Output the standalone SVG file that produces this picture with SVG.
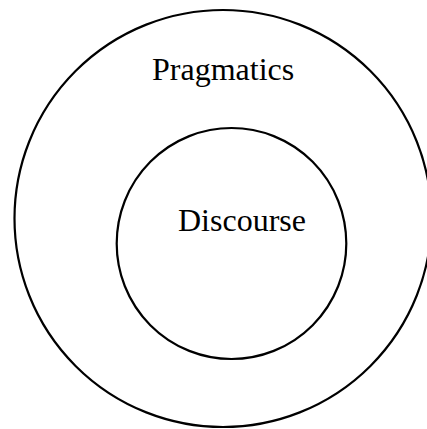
<svg xmlns="http://www.w3.org/2000/svg" width="427" height="429" viewBox="0 0 427 429">
<style>
.ring{fill:none;stroke:#000;stroke-width:2.2}
.lbl{font-family:"Liberation Serif","Times New Roman",serif;font-size:32px;fill:#000}
</style>
<rect width="427" height="429" fill="#fff"/>
<g id="pragmatics">
<ellipse class="ring" cx="223" cy="218.5" rx="208.5" ry="208.5"/>
<text class="lbl" x="152" y="80">Pragmatics</text>
</g>
<g id="discourse">
<ellipse class="ring" cx="231.5" cy="243.5" rx="114.8" ry="115.5"/>
<text class="lbl" x="178" y="231">Discourse</text>
</g>
<g id="connectors"/>
</svg>
